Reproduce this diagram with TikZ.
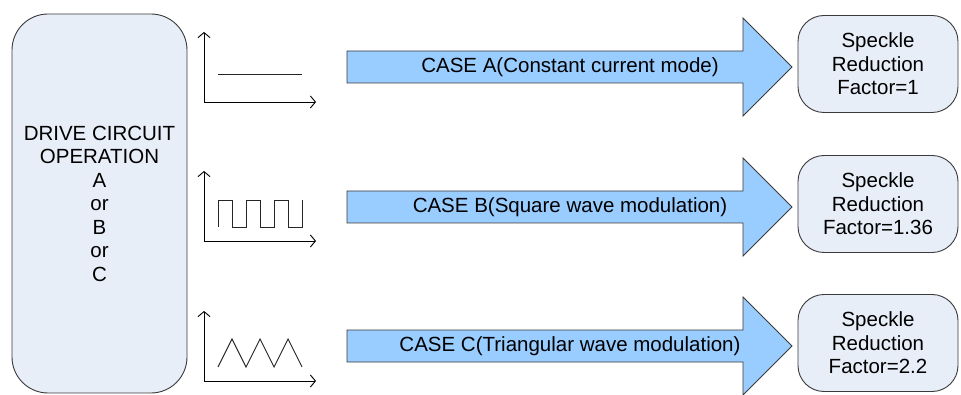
\documentclass[tikz,border=0pt]{standalone}
\usepackage{fontspec}
\setmainfont{Liberation Sans}
\usepackage{tikz}
\usepackage{xcolor}
\usetikzlibrary{positioning,arrows.meta}
\definecolor{boxfill}{HTML}{E8EEF8}
\definecolor{arrowfill}{HTML}{99CCFF}
\definecolor{edgegray}{HTML}{3A3A3A}

\begin{document}
\begin{tikzpicture}[x=1pt, y=-1pt, line width=0.9pt,
    font=\fontsize{20.5}{23.5}\selectfont,
    roundbox/.style={rectangle, rounded corners=#1, draw=edgegray, fill=boxfill, align=center, inner sep=0pt},
    axis/.style={-{Straight Barb[length=5pt,width=12pt,line width=0.9pt]}},
    wave/.style={line width=0.9pt, draw=black!85}]
    \useasboundingbox (0,0) rectangle (961,395);
    % drive circuit block
    \node[roundbox=36pt, minimum width=175pt, minimum height=379pt] (drive) at (99.5,203.5) {DRIVE CIRCUIT\\OPERATION\\A\\or\\B\\or\\C};
    % small graphs
    \foreach \n/\y in {A/102, B/241, C/381} {
        \coordinate (o\n) at (204,\y);
        \draw[axis] (o\n) -- ++(0,-70);
        \draw[axis] (o\n) -- ++(112,0);
    }
    \draw[wave] ([shift={(14,-28)}]oA) -- ++(84,0);
    \draw[wave] ([shift={(14,-14)}]oB) \foreach \i in {1,2,3} {-- ++(0,-27) -- ++(14,0) -- ++(0,27) -- ++(14,0)} -- ++(0,-27);
    \draw[wave] ([shift={(14,-14)}]oC) \foreach \i in {1,2,3} {-- ++(14,-28) -- ++(14,28)};
    % block arrows and results
    \foreach \n/\y/\txt/\res in {A/67/{CASE A(Constant current mode)}/1, B/207/{CASE B(Square wave modulation)}/1.36, C/346/{CASE C(Triangular wave modulation)}/2.2} {
        \draw[draw=edgegray, fill=arrowfill, line width=0.8pt] (347,\y-16) -- (743,\y-16) -- (743,\y-49) -- (792,\y) -- (743,\y+49) -- (743,\y+16) -- (347,\y+16) -- cycle;
        \node (case\n) at (570,\y) {\txt};
        \node[roundbox=26pt, minimum width=160pt, minimum height=97pt] (speckle\n) at (878,\y-3) {Speckle\\Reduction\\Factor=\res};
    }
\end{tikzpicture}
\end{document}
